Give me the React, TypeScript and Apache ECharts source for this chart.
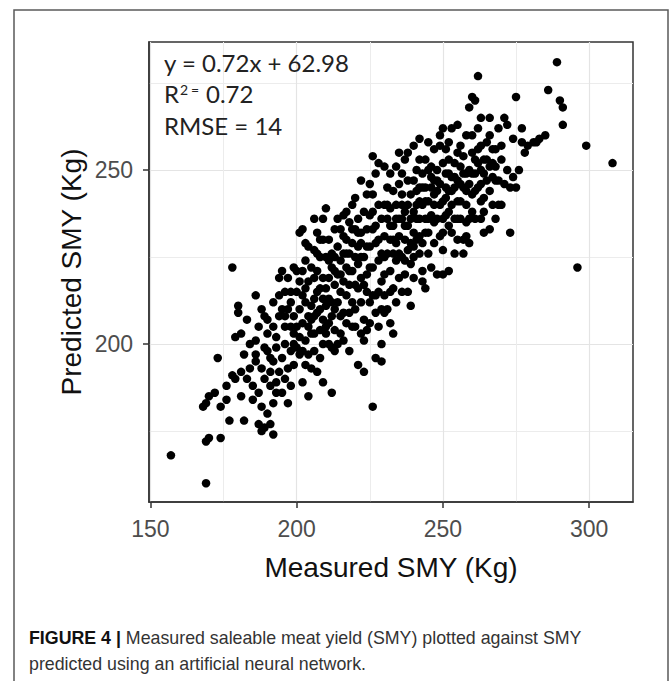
import React, { useEffect, useRef } from "react";
import * as echarts from "echarts";

// Axis ranges and ticks (ggplot-style 5% expansion)
const xRange = [149.5, 315];
const yRange = [154.6, 286.8];
const xMajorTicks = [150, 200, 250, 300];
const xMinorTicks = [175, 225, 275];
const yMajorTicks = [200, 250];
const yMinorTicks = [175, 225, 275];

const xTitle = "Measured SMY (Kg)";
const yTitle = "Predicted SMY (Kg)";
const statLines = ["y = 0.72x + 62.98", "0.72", "RMSE = 14"];
const captionBold = "FIGURE 4 |";
const captionLine1 = " Measured saleable meat yield (SMY) plotted against SMY";
const captionLine2 = "predicted using an artificial neural network.";

// [measured SMY, predicted SMY]
const smyPairs: [number, number][] = [
  [157, 168],
  [169, 160], [169, 172], [170, 173], [169, 183], [170, 185], [168, 182],
  [173, 196], [172, 186], [174, 173], [174, 182],
  [176, 184], [177, 178], [178, 222], [179, 190], [176, 188], [178, 191], [179, 202],
  [180, 211], [180, 209], [181, 203], [182, 197], [181, 185], [183, 190], [184, 193], [182, 178], [184, 200], [183, 207], [181, 192],
  [185, 188], [186, 195], [186, 201], [187, 205], [187, 177], [188, 175], [188, 182], [186, 214], [189, 199], [189, 190], [188, 193], [187, 186], [189, 208], [186, 197], [185, 184], [189, 176], [188, 210],
  [190, 180], [191, 177], [192, 174], [191, 188], [192, 195], [190, 198], [193, 202], [194, 208], [192, 212], [191, 196], [193, 186], [194, 192], [190, 203], [192, 183], [193, 199], [194, 214], [191, 192], [190, 207], [192, 205], [194, 219], [193, 189],
  [195, 221], [196, 215], [197, 210], [196, 205], [198, 198], [197, 193], [195, 186], [196, 200], [199, 203], [198, 212], [197, 219], [199, 222], [196, 190], [198, 188], [195, 196], [197, 183], [199, 208], [200, 221], [195, 210], [198, 205], [199, 194],
  [200, 215], [201, 232], [202, 233], [203, 229], [201, 210], [202, 206], [203, 201], [204, 197], [201, 197], [202, 189], [204, 185], [203, 212], [204, 218], [200, 205], [202, 221], [203, 224], [204, 208], [201, 218], [205, 193], [203, 194], [200, 199], [204, 228], [202, 214], [205, 203],
  [205, 222], [206, 236], [207, 232], [208, 225], [206, 213], [207, 209], [208, 204], [209, 200], [206, 198], [207, 192], [208, 216], [209, 219], [206, 227], [209, 230], [205, 207], [208, 210], [207, 221], [209, 213], [210, 225], [206, 203], [208, 196], [210, 205], [209, 236], [207, 215], [206, 219], [209, 189], [212, 186],
  [210, 239], [211, 230], [212, 222], [213, 217], [211, 213], [212, 208], [213, 204], [214, 200], [210, 211], [211, 219], [212, 226], [213, 233], [214, 228], [215, 224], [210, 216], [212, 212], [214, 212], [213, 221], [211, 206], [215, 215], [214, 236], [212, 199], [210, 203], [215, 208], [213, 225],
  [215, 233], [216, 237], [217, 230], [218, 226], [219, 221], [216, 218], [217, 214], [218, 209], [219, 205], [216, 209], [217, 222], [218, 235], [219, 229], [220, 217], [215, 220], [216, 226], [218, 217], [219, 212], [220, 225], [217, 238], [220, 233], [216, 201], [218, 198], [219, 240],
  [220, 242], [221, 236], [222, 229], [223, 225], [224, 220], [221, 216], [222, 212], [223, 207], [224, 204], [221, 223], [222, 232], [223, 238], [224, 233], [225, 228], [220, 210], [222, 219], [224, 215], [223, 201], [221, 194], [225, 222], [222, 247], [224, 243], [225, 212], [221, 228], [223, 192],
  [226, 182], [225, 237], [226, 233], [227, 229], [228, 224], [229, 218], [226, 214], [227, 209], [228, 205], [229, 200], [226, 243], [227, 249], [228, 240], [229, 236], [230, 231], [226, 222], [228, 215], [230, 225], [227, 196], [229, 210], [226, 254], [228, 252], [230, 240], [225, 246], [229, 195],
  [230, 220], [231, 245], [232, 239], [233, 234], [234, 229], [231, 226], [232, 221], [233, 216], [234, 212], [231, 210], [232, 249], [233, 244], [234, 240], [235, 236], [230, 214], [232, 230], [234, 224], [235, 246], [231, 236], [233, 226], [235, 219], [232, 206], [234, 251], [230, 251], [233, 203],
  [235, 231], [236, 243], [237, 238], [238, 234], [239, 229], [236, 225], [237, 220], [238, 215], [239, 211], [236, 249], [237, 253], [238, 247], [239, 243], [240, 238], [235, 255], [237, 230], [239, 223], [240, 247], [236, 236], [238, 227], [240, 232], [238, 255], [236, 215], [240, 219],
  [240, 257], [241, 250], [242, 245], [243, 240], [244, 236], [241, 230], [242, 226], [243, 221], [244, 216], [241, 240], [242, 253], [243, 249], [244, 245], [245, 241], [240, 225], [242, 236], [244, 232], [245, 250], [243, 229], [241, 244], [244, 253], [245, 236], [242, 259], [243, 218],
  [245, 226], [246, 245], [247, 240], [248, 236], [249, 231], [246, 251], [247, 256], [248, 250], [249, 246], [250, 241], [246, 237], [248, 244], [250, 252], [247, 229], [249, 257], [246, 222], [248, 220], [250, 236], [245, 258], [249, 260], [247, 247], [250, 227],
  [251, 249], [252, 244], [253, 240], [254, 236], [251, 256], [252, 253], [253, 248], [254, 245], [255, 241], [250, 262], [252, 258], [254, 252], [251, 237], [253, 232], [255, 230], [252, 221], [254, 226], [251, 242], [253, 262], [255, 255], [252, 234], [250, 220],
  [255, 247], [256, 251], [257, 245], [258, 240], [259, 236], [256, 257], [257, 254], [258, 249], [259, 246], [260, 243], [256, 241], [258, 235], [260, 255], [257, 230], [259, 229], [256, 236], [258, 260], [255, 263], [260, 249], [259, 268], [257, 226],
  [260, 271], [261, 270], [262, 277], [263, 257], [264, 253], [261, 249], [262, 245], [263, 241], [264, 238], [261, 244], [262, 262], [263, 250], [265, 258], [261, 236], [264, 232], [262, 252], [265, 247], [260, 260], [263, 265], [264, 242],
  [265, 253], [266, 260], [267, 256], [268, 251], [269, 247], [266, 244], [267, 240], [268, 256], [269, 262], [266, 265], [267, 248], [270, 253], [268, 236], [266, 233], [269, 240],
  [271, 246], [272, 250], [273, 232], [272, 263], [274, 259], [270, 257], [271, 265], [273, 245], [274, 248], [270, 240],
  [275, 271], [276, 250], [277, 258], [278, 255], [279, 257], [275, 245], [277, 262],
  [281, 258], [283, 259], [286, 273], [285, 260], [289, 281], [282, 258],
  [290, 270], [291, 268], [291, 263], [296, 222], [299, 257], [308, 252],
  // denser core
  [203, 216], [205, 211], [207, 226], [208, 230], [211, 224], [213, 210], [214, 220], [216, 231], [217, 226], [218, 221],
  [219, 233], [221, 232], [222, 225], [223, 217], [224, 228], [226, 238], [227, 234], [228, 230], [229, 226], [231, 240],
  [232, 234], [233, 230], [234, 236], [236, 240], [237, 234], [238, 240], [239, 236], [241, 236], [242, 241], [243, 245],
  [244, 241], [246, 248], [247, 243], [248, 247], [249, 240], [251, 245], [252, 249], [253, 244], [254, 248], [256, 246],
  [257, 249], [258, 244], [259, 250], [261, 253], [262, 256], [263, 246], [264, 249], [266, 251], [267, 252], [268, 247],
  [196, 208], [198, 215], [199, 200], [201, 202], [202, 198], [204, 205], [206, 208], [209, 207], [211, 200], [213, 198],
  [215, 203], [217, 206], [220, 205], [222, 203], [225, 206], [227, 214], [230, 209], [232, 215], [235, 226], [237, 224],
  [240, 228], [242, 231], [245, 232], [247, 235], [250, 232], [252, 238], [255, 236], [258, 231], [260, 238], [263, 236],
];

const AX = "Liberation Sans, Arial, sans-serif";
const ANNO = "Lato, 'Open Sans', sans-serif";

export default function App() {
  const ref = useRef<HTMLDivElement>(null);
  useEffect(() => {
    if (!ref.current) return;
    const chart = echarts.init(ref.current, undefined, { renderer: "svg" });
    const gridLeft = 149, gridTop = 42, gridW = 484, gridH = 460;
    const option: any = {
      animation: false,
      backgroundColor: "#ffffff",
      grid: {
        left: gridLeft, top: gridTop, width: gridW, height: gridH,
        show: true, borderColor: "#333333", borderWidth: 1.5, backgroundColor: "transparent",
      },
      xAxis: [
        {
          type: "value", min: xRange[0], max: xRange[1], position: "bottom",
          axisLine: { show: true, onZero: false, lineStyle: { color: "#333333", width: 1.5 } },
          axisTick: { show: true, length: 6, customValues: xMajorTicks, lineStyle: { color: "#333333", width: 1.5 } },
          axisLabel: { customValues: xMajorTicks, fontSize: 23, color: "#4d4d4d", fontFamily: AX, margin: 15 },
          splitLine: { show: true, lineStyle: { color: "#e4e4e4", width: 1.2 } },
        },
        {
          type: "value", min: xRange[0], max: xRange[1], position: "top",
          axisLine: { show: false },
          axisTick: { show: false, customValues: xMinorTicks },
          axisLabel: { show: false, customValues: xMinorTicks },
          splitLine: { show: true, lineStyle: { color: "#ececec", width: 1 } },
        },
      ],
      yAxis: [
        {
          type: "value", min: yRange[0], max: yRange[1], position: "left",
          axisLine: { show: true, onZero: false, lineStyle: { color: "#333333", width: 1.5 } },
          axisTick: { show: true, length: 6, customValues: yMajorTicks, lineStyle: { color: "#333333", width: 1.5 } },
          axisLabel: { customValues: yMajorTicks, fontSize: 23, color: "#4d4d4d", fontFamily: AX, margin: 16 },
          splitLine: { show: true, lineStyle: { color: "#e4e4e4", width: 1.2 } },
        },
        {
          type: "value", min: yRange[0], max: yRange[1], position: "right",
          axisLine: { show: false },
          axisTick: { show: false, customValues: yMinorTicks },
          axisLabel: { show: false, customValues: yMinorTicks },
          splitLine: { show: true, lineStyle: { color: "#ececec", width: 1 } },
        },
      ],
      series: [
        {
          type: "scatter",
          xAxisIndex: 0, yAxisIndex: 0,
          data: smyPairs,
          symbol: "circle",
          symbolSize: 8.5,
          itemStyle: { color: "#000000", opacity: 1 },
          z: 5,
        },
      ],
      graphic: [
        {
          type: "rect", z: -1, silent: true,
          shape: { x: 14, y: 10, width: 654, height: 720 },
          style: { fill: "none", stroke: "#5a5a5a", lineWidth: 1.5 },
        },
        { type: "text", x: 164, y: 62.5, z: 10, style: { text: statLines[0], fontSize: 24, fontFamily: ANNO, fill: "#222", align: "left", verticalAlign: "middle" } },
        { type: "text", x: 164, y: 93.5, z: 10, style: { text: "R", fontSize: 24, fontFamily: ANNO, fill: "#222", align: "left", verticalAlign: "middle" } },
        { type: "text", x: 180, y: 89, z: 10, style: { text: "2", fontSize: 14, fontFamily: ANNO, fill: "#222", align: "left", verticalAlign: "middle" } },
        { type: "text", x: 191, y: 89, z: 10, style: { text: "=", fontSize: 14, fontFamily: ANNO, fill: "#222", align: "left", verticalAlign: "middle" } },
        { type: "text", x: 206, y: 93.5, z: 10, style: { text: statLines[1], fontSize: 24, fontFamily: ANNO, fill: "#222", align: "left", verticalAlign: "middle" } },
        { type: "text", x: 164, y: 125.5, z: 10, style: { text: statLines[2], fontSize: 24, fontFamily: ANNO, fill: "#222", align: "left", verticalAlign: "middle" } },
        { type: "text", x: gridLeft + gridW / 2, y: 567, style: { text: xTitle, fontSize: 28, fontFamily: AX, fill: "#111", align: "center", verticalAlign: "middle" } },
        { type: "text", x: 71, y: gridTop + gridH / 2, rotation: Math.PI / 2, style: { text: yTitle, fontSize: 28, fontFamily: AX, fill: "#111", align: "center", verticalAlign: "middle" } },
        {
          type: "text", x: 29, y: 638,
          style: {
            text: "{b|" + captionBold + "}" + captionLine1,
            fontSize: 17.8, fontFamily: AX, fill: "#333", align: "left", verticalAlign: "middle",
            rich: { b: { fontSize: 17.8, fontFamily: AX, fontWeight: "bold", fill: "#111" } },
          },
        },
        { type: "text", x: 29, y: 663.6, style: { text: captionLine2, fontSize: 17.8, fontFamily: AX, fill: "#333", align: "left", verticalAlign: "middle" } },
      ],
    };
    chart.setOption(option);
    return () => chart.dispose();
  }, []);
  return <div ref={ref} style={{ position: "fixed", left: 0, top: 0, width: 672, height: 681, background: "#fff" }} />;
}
